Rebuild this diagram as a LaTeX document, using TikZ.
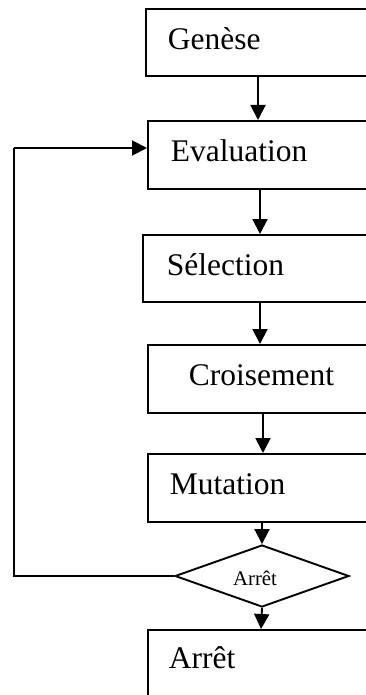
\documentclass[tikz,border=0pt]{standalone}
\usepackage{fontspec}
\setmainfont{Liberation Serif}
\usetikzlibrary{arrows.meta,shapes.geometric}
\begin{document}
\begin{tikzpicture}[x=1pt,y=-1pt,
  box/.style={draw,line width=1.9pt,anchor=north west,text width=200pt,align=left,
    font=\fontsize{31.5}{36}\selectfont,text height=22pt,text depth=8pt,inner ysep=0pt},
  arr/.style={line width=1.9pt,-{Triangle[length=15pt,width=15pt]}},
  ln/.style={line width=1.9pt}]
\useasboundingbox (0,0) rectangle (366,695);
\clip (0,0) rectangle (366,695);
\fill[white] (0,0) rectangle (366,695);
\node[box,inner xsep=22pt,minimum height=67pt] (gen) at (145,8) {Genèse};
\node[box,inner xsep=23pt,minimum height=68pt] (eval) at (147,120) {Evaluation};
\node[box,inner xsep=24pt,minimum height=67pt] (sel) at (142,234) {Sélection};
\node[box,inner xsep=41pt,minimum height=68pt] (cro) at (147,344) {Croisement};
\node[box,inner xsep=22pt,minimum height=68pt] (mut) at (147,453) {Mutation};
\node[draw,line width=1.9pt,diamond,inner sep=0pt,minimum width=174pt,minimum height=62pt,
  font=\fontsize{20.8}{24}\selectfont,text height=18pt,text depth=0pt] (dia) at (262,576) {\hspace{-14pt}Arrêt};
\node[box,inner xsep=21pt,minimum height=90pt,text depth=34pt] (arret) at (147,629) {Arrêt};
\coordinate (c1) at (14,576);
\coordinate (c2) at (14,148);
\draw[arr] ([xshift=113pt]gen.south west) -- ([xshift=111pt]eval.north west);
\draw[arr] ([xshift=113pt]eval.south west) -- ([xshift=118pt]sel.north west);
\draw[arr] ([xshift=118pt]sel.south west) -- ([xshift=113pt]cro.north west);
\draw[arr] ([xshift=116pt]cro.south west) -- ([xshift=116pt]mut.north west);
\draw[arr] ([xshift=115pt]mut.south west) -- (dia.north);
\draw[arr] (dia.south) -- ([xshift=114pt]arret.north west);
\draw[ln] (dia.west) -- (c1) -- (c2);
\draw[arr] (c2) -- (c2 -| eval.west);
\end{tikzpicture}
\end{document}
